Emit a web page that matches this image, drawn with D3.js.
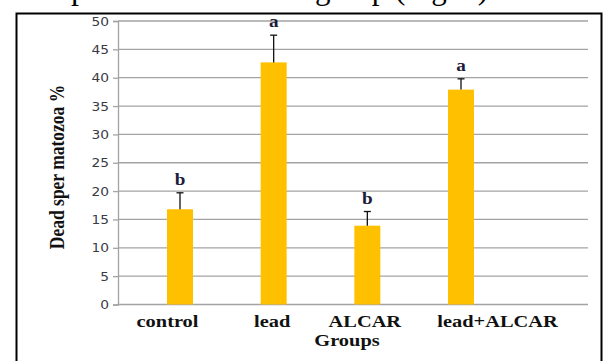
<!DOCTYPE html>
<html>
<head>
<meta charset="utf-8">
<script src="https://cdn.jsdelivr.net/npm/d3@7"></script>
<style>
  html, body { margin: 0; padding: 0; background: #fff; }
  svg { display: block; }
</style>
</head>
<body>
<svg id="chart" width="605" height="361"></svg>
<script>
// Dead spermatozoa (%) per treatment group, mean with SE bar and significance letter
const groups = ["control", "lead", "ALCAR", "lead+ALCAR"];
const deadPct = [16.8, 42.7, 13.9, 37.9];
const errPct = [2.9, 4.8, 2.5, 1.9];
const sigLetters = ["b", "a", "b", "a"];
const yTicks = [0, 5, 10, 15, 20, 25, 30, 35, 40, 45, 50];

const svg = d3.select("#chart");
const plot = { left: 118, right: 588, top: 21, bottom: 304.5 };
const SX = 1.2; // horizontal widening applied to the figure text

const serif = "'Liberation Serif', 'Times New Roman', serif";
const sans = "'DejaVu Sans', Verdana, sans-serif";

// Caption line of the surrounding page, running off the top edge
svg.append("text")
  .attr("x", 71).attr("y", -1.2)
  .attr("font-family", serif).attr("font-size", 32)
  .attr("fill", "#000").text("p");
svg.append("text")
  .attr("x", 315).attr("y", -1.2)
  .attr("font-family", serif).attr("font-size", 31)
  .attr("fill", "#000").text("group (Fig. 1)");

// Frame around the figure
svg.append("rect")
  .attr("x", 16.5).attr("y", 13.5)
  .attr("width", 585).attr("height", 400)
  .attr("fill", "none").attr("stroke", "#000").attr("stroke-width", 2);

const y = d3.scaleLinear().domain([0, 50]).range([plot.bottom, plot.top]);
const x = d3.scalePoint().domain(groups)
  .range([plot.left + 62, plot.right - 127]);
const barW = 26;

// Horizontal gridlines
svg.append("g").selectAll("line").data(yTicks.slice(1)).join("line")
  .attr("x1", plot.left).attr("x2", plot.right)
  .attr("y1", d => y(d)).attr("y2", d => y(d))
  .attr("stroke", "#a3a3a3").attr("stroke-width", 1.3);

// Y axis
const yAxis = svg.append("g")
  .attr("transform", `translate(${plot.left},0)`)
  .call(d3.axisLeft(y).tickValues(yTicks).tickSize(5).tickPadding(4));
yAxis.select(".domain").attr("stroke", "#a3a3a3").attr("stroke-width", 1.3);
yAxis.selectAll(".tick line").attr("stroke", "#a3a3a3").attr("stroke-width", 1.3);
yAxis.selectAll(".tick text")
  .attr("font-family", sans).attr("font-size", 11.5)
  .attr("fill", "#3a3a44")
  .attr("x", null).attr("dy", null)
  .attr("dominant-baseline", "central")
  .attr("transform", `translate(-9,0) scale(${SX},1)`);

// X baseline
svg.append("line")
  .attr("x1", plot.left).attr("x2", plot.right)
  .attr("y1", y(0)).attr("y2", y(0))
  .attr("stroke", "#a3a3a3").attr("stroke-width", 1.3);

// Bars
svg.append("g").selectAll("rect").data(groups).join("rect")
  .attr("x", d => x(d) - barW / 2)
  .attr("width", barW)
  .attr("y", (d, i) => y(deadPct[i]))
  .attr("height", (d, i) => y(0) - y(deadPct[i]))
  .attr("fill", "#ffc000");

// Error bars (upper only)
const eb = svg.append("g").attr("stroke", "#111").attr("stroke-width", 1.3);
groups.forEach((g, i) => {
  const cx = x(g), top = y(deadPct[i] + errPct[i]);
  eb.append("line").attr("x1", cx).attr("x2", cx)
    .attr("y1", y(deadPct[i])).attr("y2", top);
  eb.append("line").attr("x1", cx - 3.5).attr("x2", cx + 3.5)
    .attr("y1", top).attr("y2", top);
});

// Significance letters
svg.append("g").selectAll("text").data(groups).join("text")
  .attr("transform", (d, i) =>
    `translate(${x(d)},${y(deadPct[i] + errPct[i]) - 8}) scale(${SX},1)`)
  .attr("text-anchor", "middle")
  .attr("font-family", serif).attr("font-weight", "bold").attr("font-size", 16)
  .attr("fill", "#1c1c3a")
  .text((d, i) => sigLetters[i]);

// Category labels (nudged horizontally as set in the figure)
const labelNudge = { "control": -12.5, "lead": -1.5, "ALCAR": -2.5, "lead+ALCAR": 36.5 };
svg.append("g").selectAll("text").data(groups).join("text")
  .attr("transform", d => `translate(${x(d) + labelNudge[d]},327) scale(${SX},1)`)
  .attr("text-anchor", "middle")
  .attr("font-family", serif).attr("font-weight", "bold").attr("font-size", 17)
  .attr("fill", "#111")
  .text(d => d);

// Axis titles
svg.append("text")
  .attr("transform", `translate(347,346) scale(${SX},1)`)
  .attr("text-anchor", "middle")
  .attr("font-family", serif).attr("font-weight", "bold").attr("font-size", 17)
  .attr("fill", "#111").text("Groups");

svg.append("text")
  .attr("transform", `translate(64,167) scale(${SX},1) rotate(-90)`)
  .attr("text-anchor", "middle")
  .attr("font-family", serif).attr("font-weight", "bold").attr("font-size", 17.5)
  .attr("fill", "#111").text("Dead sper matozoa %");
</script>
</body>
</html>
